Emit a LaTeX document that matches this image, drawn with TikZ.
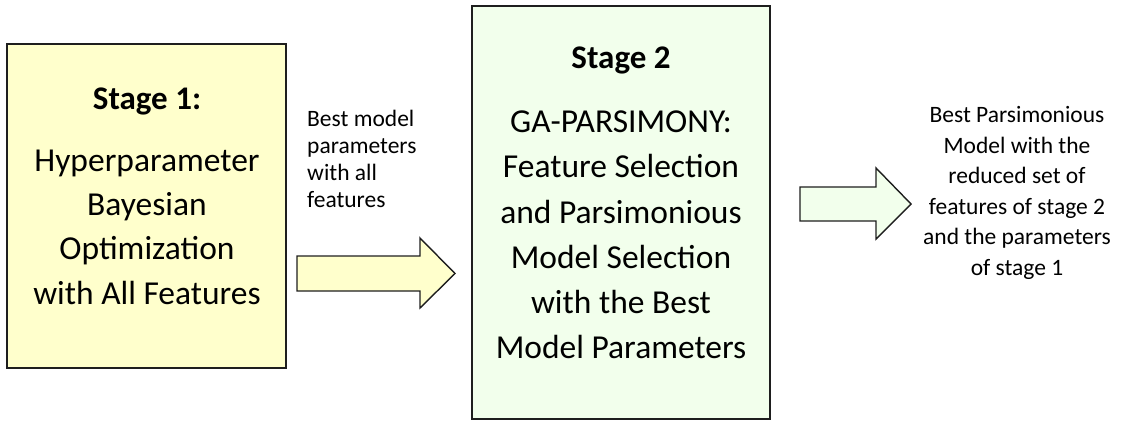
\documentclass[tikz,border=0pt]{standalone}
\usepackage{fontspec}
\setmainfont{Carlito}
\definecolor{boxyellow}{RGB}{255,255,204}
\definecolor{boxgreen}{RGB}{242,255,236}
\definecolor{edge}{RGB}{30,30,30}
\tikzset{
  stagebox/.style={draw=edge, line width=1.6pt, inner sep=0pt},
  blockarrow/.style={draw=edge, line width=1.4pt, line join=miter},
  titletext/.style={font=\fontsize{33}{44}\selectfont\bfseries, inner sep=0pt},
  bigtext/.style={font=\fontsize{33.5}{44.3}\selectfont, align=center, inner sep=0pt},
  bigtextb/.style={font=\fontsize{33.5}{45.3}\selectfont, align=center, inner sep=0pt},
  smalltext/.style={font=\fontsize{23.5}{27}\selectfont, inner sep=0pt},
  smalltextb/.style={font=\fontsize{23.5}{30.5}\selectfont, inner sep=0pt},
}
\begin{document}
\begin{tikzpicture}[x=1pt,y=-1pt]
\useasboundingbox (0,0) rectangle (1121,422);
% stage boxes
\node[stagebox, fill=boxyellow, minimum width=279pt, minimum height=324pt] (s1) at (146.5,206) {};
\node[stagebox, fill=boxgreen, minimum width=298pt, minimum height=413pt] (s2) at (621,212.5) {};
% texts in boxes
\node[titletext] (t1) at (147,101) {Stage 1:};
\node[bigtext] (b1) at (147,227) {Hyperparameter\\Bayesian\\Optimization\\with All Features};
\node[titletext] (t2) at (621,60) {Stage 2};
\node[bigtextb] (b2) at (621,235) {GA-PARSIMONY:\\Feature Selection\\and Parsimonious\\Model Selection\\with the Best\\Model Parameters};
% block arrows
\coordinate (a1) at (297,273.5);
\draw[blockarrow, fill=boxyellow] (a1) ++(0,-17.5) -- (420,256) -- (420,238) -- (455,273.5) -- (420,308) -- (420,291) -- (297,291) -- cycle;
\coordinate (a2) at (800,204);
\draw[blockarrow, fill=boxgreen] (a2) ++(0,-17) -- (876,187) -- (876,168) -- (911,204) -- (876,239) -- (876,221) -- (800,221) -- cycle;
% labels
\node[smalltext, align=left, anchor=west] (l1) at (307,159) {Best model\\parameters\\with all\\features};
\node[smalltextb, align=center] (l2) at (1017,193) {Best Parsimonious\\Model with the\\reduced set of\\features of stage 2\\and the parameters\\of stage 1};
\end{tikzpicture}
\end{document}
